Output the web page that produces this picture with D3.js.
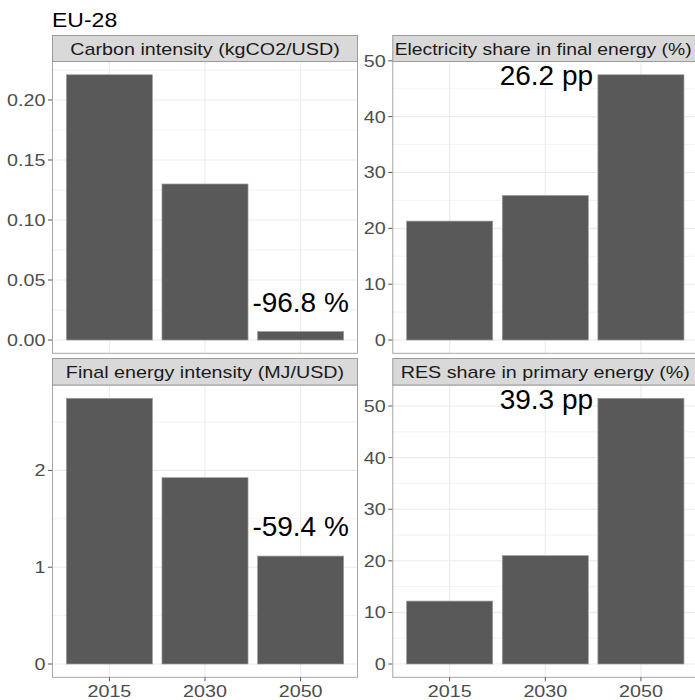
<!DOCTYPE html>
<html>
<head>
<meta charset="utf-8">
<script src="https://cdn.jsdelivr.net/npm/d3@7"></script>
<style>
  html, body { margin: 0; padding: 0; background: #fff; overflow: hidden; }
  svg { display: block; font-family: "Liberation Sans", Arial, sans-serif; }
</style>
</head>
<body>
<svg id="chart" width="695" height="700"></svg>
<script>
// ---- data ----
const title = "EU-28";
const years = ["2015", "2030", "2050"];
const panelTitles = [
  "Carbon intensity (kgCO2/USD)",
  "Electricity share in final energy (%)",
  "Final energy intensity (MJ/USD)",
  "RES share in primary energy (%)"
];
const carbonIntensity = [0.221, 0.130, 0.0071];
const electricityShare = [21.3, 25.9, 47.5];
const finalEnergyIntensity = [2.745, 1.925, 1.115];
const resShare = [12.2, 21.0, 51.5];
const carbonTicks = [0, 0.05, 0.10, 0.15, 0.20];
const electricityTicks = [0, 10, 20, 30, 40, 50];
const finalEnergyTicks = [0, 1, 2];
const resTicks = [0, 10, 20, 30, 40, 50];
const annotations = ["-96.8 %", "26.2 pp", "-59.4 %", "39.3 pp"];

// ---- layout ----
const svg = d3.select("#chart");
const cols = [[52, 358], [392.3, 698.3]];
const rows = [
  { stripTop: 35, stripBot: 61.5, panelBot: 353.3 },
  { stripTop: 358, stripBot: 385, panelBot: 677.3 }
];
const SX = 1.16; // horizontal text stretch of the reference

const panels = [
  { values: carbonIntensity, ticks: carbonTicks, fmt: d3.format(".2f"), col: 0, row: 0, label: annotations[0], kind: "pct" },
  { values: electricityShare, ticks: electricityTicks, fmt: d3.format("d"), col: 1, row: 0, label: annotations[1], kind: "pp" },
  { values: finalEnergyIntensity, ticks: finalEnergyTicks, fmt: d3.format("d"), col: 0, row: 1, label: annotations[2], kind: "pct" },
  { values: resShare, ticks: resTicks, fmt: d3.format("d"), col: 1, row: 1, label: annotations[3], kind: "pp" }
];

function stretchedText(g, x, y, txt, opts) {
  return g.append("text")
    .attr("transform", `translate(${x},${y}) scale(${opts.sx || SX},1)`)
    .attr("text-anchor", opts.anchor || "start")
    .attr("font-size", opts.size)
    .attr("fill", opts.fill || "#000")
    .text(txt);
}

// title
stretchedText(svg, 52, 27, title, { size: 19.5, sx: 1.18, fill: "#000" });

panels.forEach((p, i) => {
  const [x0, x1] = cols[p.col];
  const r = rows[p.row];
  const g = svg.append("g");
  const maxV = d3.max(p.values);
  const y = d3.scaleLinear().domain([-0.05 * maxV, 1.05 * maxV]).range([r.panelBot, r.stripBot]);
  const x = d3.scaleBand().domain(years).range([x0, x1]).paddingInner(0.1).paddingOuter(0.15);
  const cx = d => x(d) + x.bandwidth() / 2;

  // panel background
  g.append("rect").attr("x", x0).attr("y", r.stripBot).attr("width", x1 - x0).attr("height", r.panelBot - r.stripBot).attr("fill", "#fff");

  // minor gridlines
  const step = p.ticks[1] - p.ticks[0];
  const dom = y.domain();
  const minors = [];
  for (let v = p.ticks[0] - step / 2; v <= dom[1]; v += step) {
    if (v >= dom[0] && v <= dom[1]) minors.push(v);
  }
  g.selectAll(".minor").data(minors).enter().append("line")
    .attr("x1", x0).attr("x2", x1).attr("y1", d => y(d)).attr("y2", d => y(d))
    .attr("stroke", "#EBEBEB").attr("stroke-width", 0.6);
  // major gridlines
  g.selectAll(".majory").data(p.ticks).enter().append("line")
    .attr("x1", x0).attr("x2", x1).attr("y1", d => y(d)).attr("y2", d => y(d))
    .attr("stroke", "#EBEBEB").attr("stroke-width", 1.1);
  g.selectAll(".majorx").data(years).enter().append("line")
    .attr("x1", d => cx(d)).attr("x2", d => cx(d)).attr("y1", r.stripBot).attr("y2", r.panelBot)
    .attr("stroke", "#EBEBEB").attr("stroke-width", 1.1);

  // bars
  g.selectAll(".bar").data(p.values).enter().append("rect")
    .attr("x", (d, j) => x(years[j]))
    .attr("width", x.bandwidth())
    .attr("y", d => y(d))
    .attr("height", d => y(0) - y(d))
    .attr("fill", "#595959")
    .attr("stroke", "#9e9e9e").attr("stroke-width", 0.7);

  // panel border
  g.append("rect").attr("x", x0 + 0.5).attr("y", r.stripBot).attr("width", x1 - x0 - 1).attr("height", r.panelBot - r.stripBot)
    .attr("fill", "none").attr("stroke", "#a6a6a6").attr("stroke-width", 1);

  // strip
  g.append("rect").attr("x", x0 + 0.5).attr("y", r.stripTop + 0.5).attr("width", x1 - x0 - 1).attr("height", r.stripBot - r.stripTop - 0.5)
    .attr("fill", "#D9D9D9").attr("stroke", "#9a9a9a").attr("stroke-width", 1);
  const stripSx = (i === 1) ? 1.135 : SX;
  const stripX = (i === 1) ? (x0 + 694) / 2 : (x0 + x1) / 2;
  stretchedText(g, stripX, r.stripTop + 20, panelTitles[i], { size: 17, anchor: "middle", fill: "#1A1A1A", sx: stripSx });

  // y axis ticks and labels
  g.selectAll(".ytick").data(p.ticks).enter().append("line")
    .attr("x1", x0 - 4).attr("x2", x0).attr("y1", d => y(d)).attr("y2", d => y(d))
    .attr("stroke", "#555").attr("stroke-width", 1);
  p.ticks.forEach(t => {
    stretchedText(g, x0 - 6.5, y(t) + 6, p.fmt(t), { size: 17, anchor: "end", fill: "#4D4D4D" });
  });

  // x axis ticks and labels (bottom row only)
  if (p.row === 1) {
    g.selectAll(".xtick").data(years).enter().append("line")
      .attr("x1", d => cx(d)).attr("x2", d => cx(d)).attr("y1", r.panelBot).attr("y2", r.panelBot + 4)
      .attr("stroke", "#555").attr("stroke-width", 1);
    years.forEach(yr => {
      stretchedText(g, cx(yr), r.panelBot + 19.5, yr, { size: 17, anchor: "middle", fill: "#4D4D4D" });
    });
  }

  // annotation
  const last = p.values[p.values.length - 1];
  if (p.kind === "pct") {
    g.append("text").attr("x", cx(years[2])).attr("y", y(last) - 20)
      .attr("text-anchor", "middle").attr("font-size", 28).attr("fill", "#000").text(p.label);
  } else {
    const xm = cx(years[1]) + x.step() / 2;
    g.append("text").attr("x", xm).attr("y", y(maxV) + 10.5)
      .attr("text-anchor", "end").attr("font-size", 28).attr("fill", "#000").text(p.label);
  }
});
</script>
</body>
</html>
